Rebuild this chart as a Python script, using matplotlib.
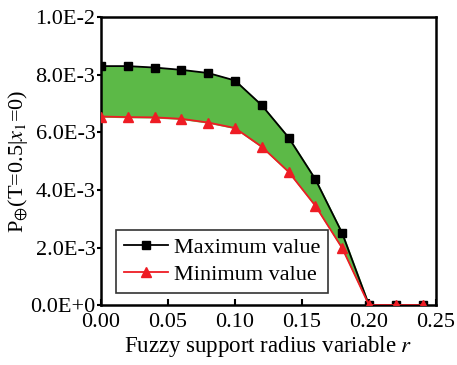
import matplotlib
matplotlib.use('Agg')
import matplotlib.pyplot as plt
from matplotlib.ticker import FuncFormatter

plt.rcParams['font.family'] = ['Liberation Serif', 'DejaVu Serif']
plt.rcParams['mathtext.fontset'] = 'stix'

r = [0.00, 0.02, 0.04, 0.06, 0.08, 0.10, 0.12, 0.14, 0.16, 0.18, 0.20, 0.22, 0.24]
p_max = [8.30e-3, 8.30e-3, 8.25e-3, 8.17e-3, 8.06e-3, 7.80e-3, 6.94e-3, 5.82e-3, 4.37e-3, 2.50e-3, 0, 0, 0]
p_min = [6.55e-3, 6.53e-3, 6.52e-3, 6.47e-3, 6.34e-3, 6.15e-3, 5.50e-3, 4.63e-3, 3.45e-3, 1.98e-3, 0, 0, 0]

fig = plt.figure(figsize=(4.57, 3.65), dpi=100)
ax = fig.add_axes([0.221, 0.164, 0.733, 0.789])

ax.fill_between(r, p_min, p_max, color='#5cb947', zorder=1)
ax.plot(r, p_max, color='black', marker='s', ms=6, lw=1.3, label='Maximum value', zorder=2)
ax.plot(r, p_min, color='#ee1c24', marker='^', ms=7, lw=1.3, label='Minimum value', zorder=3)

ax.set_xlim(0, 0.25)
ax.set_ylim(0, 0.01)
ax.set_xticks([0, 0.05, 0.10, 0.15, 0.20, 0.25])
ax.set_yticks([0, 0.002, 0.004, 0.006, 0.008, 0.010])
ax.xaxis.set_major_formatter(FuncFormatter(lambda v, p: '%.2f' % v))

def sci(v, p):
    if v == 0:
        return '0.0E+0'
    s = '%.1E' % v
    m, e = s.split('E')
    return '%sE%d' % (m, int(e))

ax.yaxis.set_major_formatter(FuncFormatter(sci))
ax.tick_params(axis='x', direction='in', length=4, width=1.5, labelsize=16, pad=6)
ax.tick_params(axis='y', direction='out', length=3, width=1.5, labelsize=16, pad=1)
for s in ax.spines.values():
    s.set_linewidth(1.8)

ax.set_xlabel('Fuzzy support radius variable $r$', fontsize=16.5, labelpad=1)
ax.set_ylabel(r'P$_{\oplus}$(T=0.5|$x_{\rm 1}$=0)', fontsize=16, labelpad=0)

leg = ax.legend(loc='lower left', fontsize=16, frameon=True, fancybox=False,
                edgecolor='black', handlelength=2.0, handletextpad=0.25,
                borderpad=0.35, borderaxespad=0, labelspacing=0.3,
                bbox_to_anchor=(0.045, 0.042))
leg.get_frame().set_linewidth(1.2)

fig.savefig('out.png', dpi=100)
